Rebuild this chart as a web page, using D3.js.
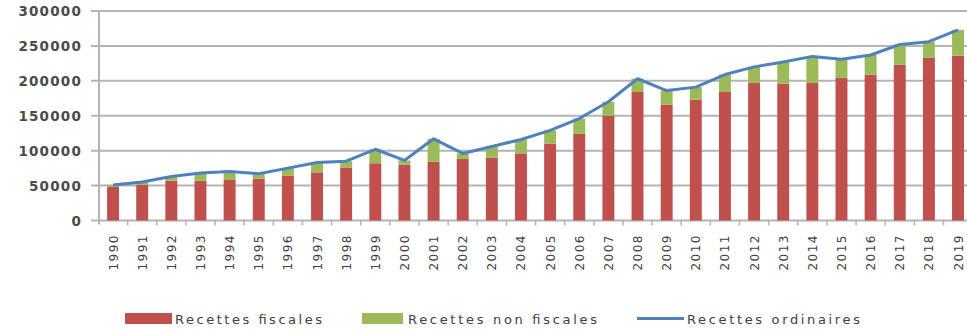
<!DOCTYPE html>
<html><head><meta charset="utf-8">
<script src="https://cdn.jsdelivr.net/npm/d3@7"></script>
<style>body{margin:0;background:#fff;} svg{display:block;}</style>
</head><body>
<svg id="c" width="967" height="330"></svg>
<script>
const years = ["1990","1991","1992","1993","1994","1995","1996","1997","1998","1999","2000","2001","2002","2003","2004","2005","2006","2007","2008","2009","2010","2011","2012","2013","2014","2015","2016","2017","2018","2019"];
const recettesFiscales = [48000,51000,57000,57000,58000,60000,64000,69000,76000,82000,80000,84000,88000,90000,96000,110000,124000,150000,184000,166000,173000,184000,197000,196000,197000,204000,209000,223000,233000,236000];
const recettesNonFiscales = [3000,4000,6000,11000,12000,7000,11000,14000,9000,20000,6000,33000,8000,16000,20000,19000,22000,20000,19000,20000,18000,25000,23000,31000,38000,27000,28000,29000,23000,37000];
const recettesOrdinaires = [51000,55000,63000,68000,70000,67000,75000,83000,85000,102000,86000,117000,96000,106000,116000,129000,146000,170000,203000,186000,191000,209000,220000,227000,235000,231000,237000,252000,256000,273000];
const yTicks = [0,50000,100000,150000,200000,250000,300000];
const seriesNames = ["Recettes fiscales","Recettes non fiscales","Recettes ordinaires"];
const colors = ["#C0504D","#9BBB59","#4F81BD"];

const svg = d3.select("#c");
const x = d3.scaleBand().domain(years).range([98.5, 972.6]).padding(0);
const y = d3.scaleLinear().domain([0,300000]).range([220.5, 11]);
const bw = x.bandwidth()*0.41;
const font = "'DejaVu Sans', Verdana, sans-serif";

// gridlines
svg.append("g").selectAll("line").data(yTicks).join("line")
  .attr("x1", 91).attr("x2", 967)
  .attr("y1", d=>y(d)).attr("y2", d=>y(d))
  .attr("stroke", "#b4b4b4").attr("stroke-width", 2);
// y axis line
svg.append("line").attr("x1",99).attr("x2",99).attr("y1",y(300000)).attr("y2",y(0)+4)
  .attr("stroke","#b4b4b4").attr("stroke-width",2);
// y labels
svg.append("g").selectAll("text").data(yTicks).join("text")
  .attr("x", 82).attr("y", d=>y(d)+5)
  .attr("text-anchor","end")
  .attr("font-family", font).attr("font-size", 13.5).attr("font-weight","bold")
  .attr("letter-spacing", 1.2)
  .attr("fill","#4a4a4a")
  .text(d=>d);
// x ticks
svg.append("g").selectAll("line").data(years).join("line")
  .attr("x1", d=>x(d)+x.bandwidth())
  .attr("x2", d=>x(d)+x.bandwidth())
  .attr("y1", y(0)).attr("y2", y(0)+5)
  .attr("stroke","#b4b4b4").attr("stroke-width",1.5);

// bars
const stacked = years.map((yr,i)=>({yr, f: recettesFiscales[i], n: recettesNonFiscales[i]}));
svg.append("g").selectAll("rect").data(stacked).join("rect")
  .attr("x", d=>x(d.yr)+x.bandwidth()/2-bw/2).attr("width", bw)
  .attr("y", d=>y(d.f)).attr("height", d=>y(0)-y(d.f))
  .attr("fill", colors[0]);
svg.append("g").selectAll("rect").data(stacked).join("rect")
  .attr("x", d=>x(d.yr)+x.bandwidth()/2-bw/2).attr("width", bw)
  .attr("y", d=>y(d.f+d.n)).attr("height", d=>y(d.f)-y(d.f+d.n))
  .attr("fill", colors[1]);

// line
const line = d3.line().x((d,i)=>x(years[i])+x.bandwidth()/2).y(d=>y(d));
svg.append("path").datum(recettesOrdinaires).attr("d", line)
  .attr("fill","none").attr("stroke", colors[2]).attr("stroke-width",3)
  .attr("stroke-linejoin","round");

// x labels
svg.append("g").selectAll("text").data(years).join("text")
  .attr("transform", d=>`translate(${x(d)+x.bandwidth()/2+4.5},234) rotate(-90)`)
  .attr("text-anchor","end")
  .attr("font-family", font).attr("font-size", 12)
  .attr("letter-spacing", 1.5)
  .attr("fill","#404040")
  .text(d=>d);

// legend
const leg = svg.append("g");
leg.append("rect").attr("x",125).attr("y",313).attr("width",47).attr("height",11).attr("fill",colors[0]);
leg.append("rect").attr("x",362).attr("y",313).attr("width",41).attr("height",11).attr("fill",colors[1]);
leg.append("line").attr("x1",637).attr("x2",684).attr("y1",318.5).attr("y2",318.5).attr("stroke",colors[2]).attr("stroke-width",3);
const legText = [{t:seriesNames[0], x:175, w:147},{t:seriesNames[1], x:408, w:189},{t:seriesNames[2], x:687, w:173}];
leg.selectAll("text").data(legText).join("text")
  .attr("x", d=>d.x).attr("y", 324)
  .attr("font-family", font).attr("font-size", 13)
  .attr("fill","#404040")
  .attr("textLength", d=>d.w).attr("lengthAdjust","spacing")
  .text(d=>d.t);
</script>
</body></html>
